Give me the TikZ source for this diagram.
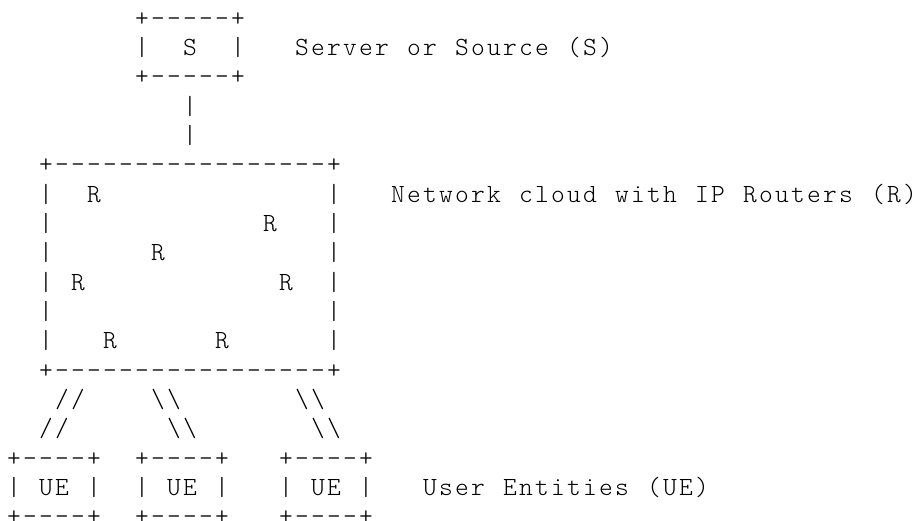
\documentclass[tikz,border=0pt]{standalone}
\usepackage{fontspec}
\newfontfamily\courlike[LetterSpace=8.6]{Latin Modern Mono Light}
\tikzset{ascii/.style={anchor=base west, inner sep=0pt, outer sep=0pt, text=black,
  text depth=0pt, font={\fontsize{26.2pt}{30pt}\courlike}},
  lastrow/.style={text depth=-4pt}}
\newcommand\asc[5][]{\node[ascii,#1] (#2) at ({7+16*#3},{-26.33-29.33*(#4-1)}) {#5};}
\newcommand\bs{\textbackslash\textbackslash}
\newcommand\spc{\hspace*{18.25pt}}
\begin{document}
\begin{tikzpicture}[x=1pt,y=1pt]
\fill[white] (0,0) rectangle (918,-521);
\useasboundingbox (0,0) rectangle (918,-521);
% server box
\asc{stop}{8}{1}{+-----+}
\asc{sleft}{8}{2}{|}
\asc{s}{11}{2}{S}
\asc{sright}{14}{2}{|}
\asc{slabel}{18}{2}{Server\spc or\spc Source\spc (S)}
\asc{sbot}{8}{3}{+-----+}
\asc{link1}{11}{4}{|}
\asc{link2}{11}{5}{|}
% network cloud
\asc{ntop}{2}{6}{+-----------------+}
\asc{nl7}{2}{7}{|}\asc{r1}{5}{7}{R}\asc{nr7}{20}{7}{|}
\asc{nlabel}{24}{7}{Network\spc cloud\spc with\spc IP\spc Routers\spc (R)}
\asc{nl8}{2}{8}{|}\asc{r2}{16}{8}{R}\asc{nr8}{20}{8}{|}
\asc{nl9}{2}{9}{|}\asc{r3}{9}{9}{R}\asc{nr9}{20}{9}{|}
\asc{nl10}{2}{10}{|}\asc{r4}{4}{10}{R}\asc{r5}{17}{10}{R}\asc{nr10}{20}{10}{|}
\asc{nl11}{2}{11}{|}\asc{nr11}{20}{11}{|}
\asc{nl12}{2}{12}{|}\asc{r6}{6}{12}{R}\asc{r7}{13}{12}{R}\asc{nr12}{20}{12}{|}
\asc{nbot}{2}{13}{+-----------------+}
% links to user entities
\asc{la1}{3}{14}{//}\asc{lb1}{9}{14}{\bs}\asc{lc1}{18}{14}{\bs}
\asc{la2}{2}{15}{//}\asc{lb2}{10}{15}{\bs}\asc{lc2}{19}{15}{\bs}
% user entities
\asc{uatop}{0}{16}{+----+}\asc{ubtop}{8}{16}{+----+}\asc{uctop}{17}{16}{+----+}
\asc{ual}{0}{17}{|}\asc{ua}{2}{17}{UE}\asc{uar}{5}{17}{|}
\asc{ubl}{8}{17}{|}\asc{ub}{10}{17}{UE}\asc{ubr}{13}{17}{|}
\asc{ucl}{17}{17}{|}\asc{uc}{19}{17}{UE}\asc{ucr}{22}{17}{|}
\asc{ulabel}{26}{17}{User\spc Entities\spc (UE)}
\asc[lastrow]{uabot}{0}{18}{+----+}\asc[lastrow]{ubbot}{8}{18}{+----+}\asc[lastrow]{ucbot}{17}{18}{+----+}
\end{tikzpicture}
\end{document}
